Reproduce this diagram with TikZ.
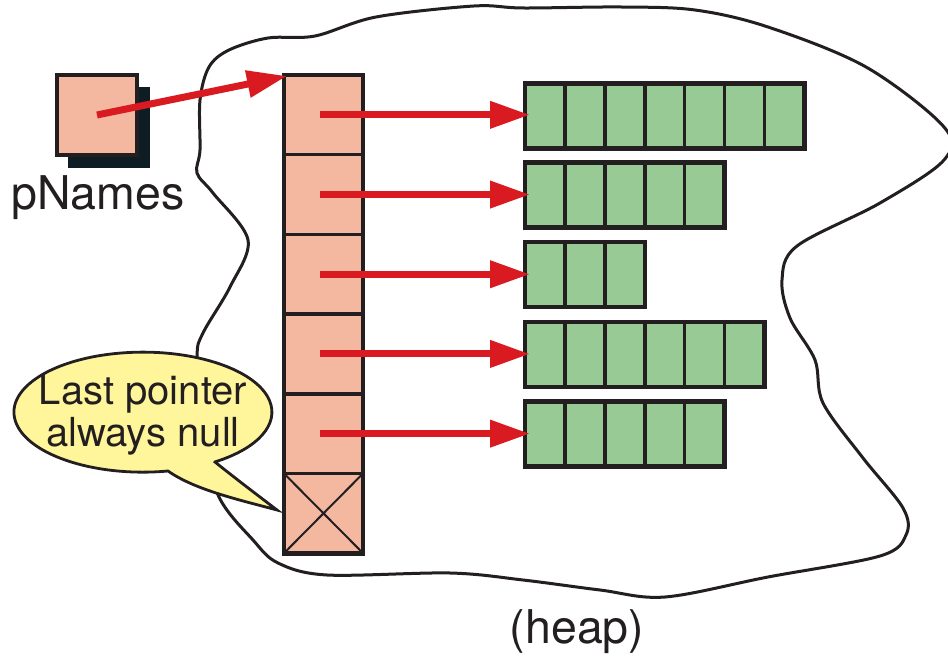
\documentclass[tikz,border=0pt]{standalone}
\usepackage{fontspec}
\setmainfont{TeX Gyre Heros}
\usetikzlibrary{arrows.meta}
\definecolor{cellpink}{HTML}{F4B8A1}
\definecolor{cellgreen}{HTML}{98CA95}
\definecolor{ptrred}{HTML}{D91A21}
\definecolor{inkdark}{HTML}{231F20}
\definecolor{noteyellow}{HTML}{FFF59B}
\definecolor{shadowdark}{HTML}{0E1C24}
\begin{document}
\begin{tikzpicture}[x=1pt,y=-1pt,
  ptrcell/.style={draw=inkdark, line width=3.6pt, fill=cellpink,
    minimum width=79pt, minimum height=79.7pt, inner sep=0pt, outer sep=0pt},
  strrow/.style={draw=inkdark, line width=4.4pt, fill=cellgreen,
    minimum height=65pt, inner sep=0pt, outer sep=0pt, anchor=west},
  divider/.style={draw=inkdark, line width=3.6pt},
  ptrarrow/.style={draw=ptrred, line width=7pt,
    -{Triangle[length=40pt,width=26pt]}},
  bigtext/.style={font=\fontsize{46.5}{50}\selectfont, text=inkdark, inner sep=0pt},
  notetext/.style={font=\fontsize{40}{42}\selectfont, text=inkdark, align=center, inner sep=0pt},
  heapline/.style={draw=inkdark, line width=3pt}
]
\useasboundingbox (0,0) rectangle (948,660);

% heap outline
\draw[heapline] plot[smooth cycle, tension=0.55] coordinates {
  (200,100) (209,67) (229,50) (268,38) (315,36) (376,17) (474,6) (523,8)
  (621,7) (695,10) (768,27) (866,67) (944,127) (944,160) (880,203)
  (797,246) (782,280) (790,318) (815,360) (823,403) (863,458) (903,508)
  (906,535) (880,556) (768,577) (665,597) (600,590) (523,580) (450,573)
  (327,575) (278,563) (253,540) (219,497) (200,430) (197,357) (203,333)
  (230,287) (248,240) (213,193) (197,173) (200,150)};

% speech bubble
\path[draw=inkdark, line width=2.8pt, fill=noteyellow]
  (215,462) .. controls (240,482) and (260,497) .. (277,510)
  .. controls (240,500) and (195,490) .. (168,471)
  arc[start angle=78.8, end angle=416, x radius=129, y radius=60] -- cycle;
\node[notetext] (note) at (143,415) {Last pointer\\always null};

% pointer variable with its shadow
\fill[shadowdark] (68,87) rectangle (150,168);
\node[draw=inkdark, line width=3.4pt, fill=cellpink, minimum width=80pt,
  minimum height=80pt, inner sep=0pt] (pn) at (97,115) {};
\node[bigtext] (pnlabel) at (98,198) {pNames};

% array of pointers
\foreach \r in {1,...,6}
  \node[ptrcell] (p\r) at (323.5, 75+39.85+79.7*\r-79.7) {};
\draw[inkdark, line width=4.6pt] (p1.north west) rectangle (p6.south east);
\draw[inkdark, line width=2pt] (p6.north west) -- (p6.south east)
  (p6.north east) -- (p6.south west);

% strings on the heap
\foreach \n/\cy [count=\r] in {7/116, 5/195, 3/274.5, 6/354.5, 5/434} {
  \node[strrow, minimum width=\n*39.9pt] (g\r) at (525,\cy) {};
  \foreach \k in {2,...,\n}
    \draw[divider] ([xshift=\k*39.9pt-39.9pt]g\r.north west)
      -- ([xshift=\k*39.9pt-39.9pt]g\r.south west);
}

% pointers
\draw[ptrarrow] (pn.center) -- ([xshift=3pt,yshift=-1pt]p1.north west);
\foreach \r in {1,...,5}
  \draw[ptrarrow, shorten >=-5pt] ([xshift=-3.5pt]p\r.center)
    -- (p\r.center -| g\r.west);

\node[bigtext] (heaplabel) at (577,632) {(heap)};
\end{tikzpicture}
\end{document}
